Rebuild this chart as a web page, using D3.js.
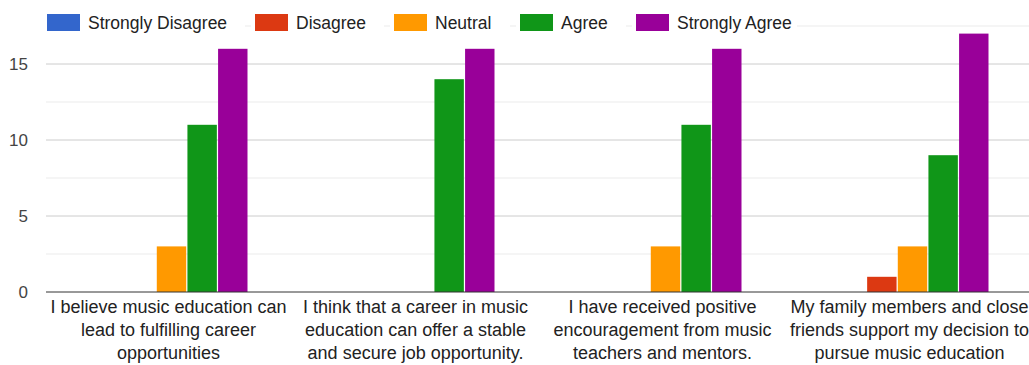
<!DOCTYPE html>
<html>
<head>
<meta charset="utf-8">
<script src="https://cdn.jsdelivr.net/npm/d3@7"></script>
<style>
  body { margin: 0; background: #fff; }
  svg { font-family: "Liberation Sans", Arial, sans-serif; }
</style>
</head>
<body>
<div id="chart"></div>
<script>
// data
const questions = [
  ["I believe music education can", "lead to fulfilling career", "opportunities"],
  ["I think that a career in music", "education can offer a stable", "and secure job opportunity."],
  ["I have received positive", "encouragement from music", "teachers and mentors."],
  ["My family members and close", "friends support my decision to", "pursue music education"]
];
const levels = ["Strongly Disagree", "Disagree", "Neutral", "Agree", "Strongly Agree"];
const colors = ["#3366cc", "#dc3912", "#ff9900", "#109618", "#990099"];
const stronglyDisagree = [0, 0, 0, 0];
const disagree = [0, 0, 0, 1];
const neutral = [3, 0, 3, 3];
const agree = [11, 14, 11, 9];
const stronglyAgree = [16, 16, 16, 17];
const yTicks = [0, 5, 10, 15];
const yMinor = [2.5, 7.5, 12.5, 17.5];

const series = [stronglyDisagree, disagree, neutral, agree, stronglyAgree];

const W = 1029, H = 365;
const margin = {top: 26, right: -5, bottom: 73, left: 46},
      width = W - margin.left - margin.right,
      height = H - margin.top - margin.bottom;

const svg = d3.select("#chart").append("svg")
  .attr("width", W)
  .attr("height", H);

const g = svg.append("g")
  .attr("transform", "translate(" + margin.left + "," + margin.top + ")");

const x0 = d3.scaleBand()
  .domain(d3.range(questions.length))
  .range([0, width]);
const x1 = d3.scaleBand()
  .domain(d3.range(levels.length))
  .range([0, 152])
  .paddingInner(0.04);
const y = d3.scaleLinear()
  .domain([0, 17.5])
  .range([height, 0]);

// gridlines
g.selectAll(".minor").data(yMinor).enter().append("line")
  .attr("x1", 0).attr("x2", width)
  .attr("y1", d => y(d)).attr("y2", d => y(d))
  .style("stroke", "#ebebeb");
g.selectAll(".major").data(yTicks.slice(1)).enter().append("line")
  .attr("x1", 0).attr("x2", width)
  .attr("y1", d => y(d)).attr("y2", d => y(d))
  .style("stroke", "#cccccc");

// y labels
g.selectAll(".ylab").data(yTicks).enter().append("text")
  .attr("x", -18)
  .attr("y", d => y(d))
  .attr("dy", "0.36em")
  .attr("text-anchor", "end")
  .style("font-size", "17px")
  .style("fill", "#444")
  .text(d => d);

// bars
const groups = g.selectAll(".grp").data(questions).enter().append("g")
  .attr("transform", (d, i) => "translate(" + (x0(i) + x0.bandwidth() / 2 - 74) + ",0)");

groups.selectAll("rect")
  .data((d, i) => series.map((s, k) => ({k: k, v: s[i]})))
  .enter().append("rect")
  .attr("x", d => x1(d.k))
  .attr("width", x1.bandwidth())
  .attr("y", d => y(d.v))
  .attr("height", d => height - y(d.v))
  .style("fill", d => colors[d.k]);

// baseline
g.append("line")
  .attr("x1", 0).attr("x2", width)
  .attr("y1", height).attr("y2", height)
  .style("stroke", "#333");

// x labels
groups.append("text")
  .attr("text-anchor", "middle")
  .style("font-size", "18px")
  .style("fill", "#222")
  .selectAll("tspan")
  .data(d => d)
  .enter().append("tspan")
  .attr("x", 73)
  .attr("y", (d, i) => height + 21 + i * 23)
  .text(d => d);

// legend
const legendX = [47, 255, 394, 520, 636];
const leg = svg.selectAll(".leg").data(levels).enter().append("g")
  .attr("transform", (d, i) => "translate(" + legendX[i] + ",14)");
leg.append("rect")
  .attr("x", -4).attr("y", -2)
  .attr("height", 22)
  .attr("width", (d, i) => (i < levels.length - 1 ? legendX[i + 1] - legendX[i] - 6 : 165))
  .style("fill", "#fff");
leg.append("rect")
  .attr("width", 33).attr("height", 17)
  .style("fill", (d, i) => colors[i]);
leg.append("text")
  .attr("x", 41).attr("y", 9)
  .attr("dy", "0.36em")
  .style("font-size", "17.5px")
  .style("fill", "#222")
  .text(d => d);
</script>
</body>
</html>
